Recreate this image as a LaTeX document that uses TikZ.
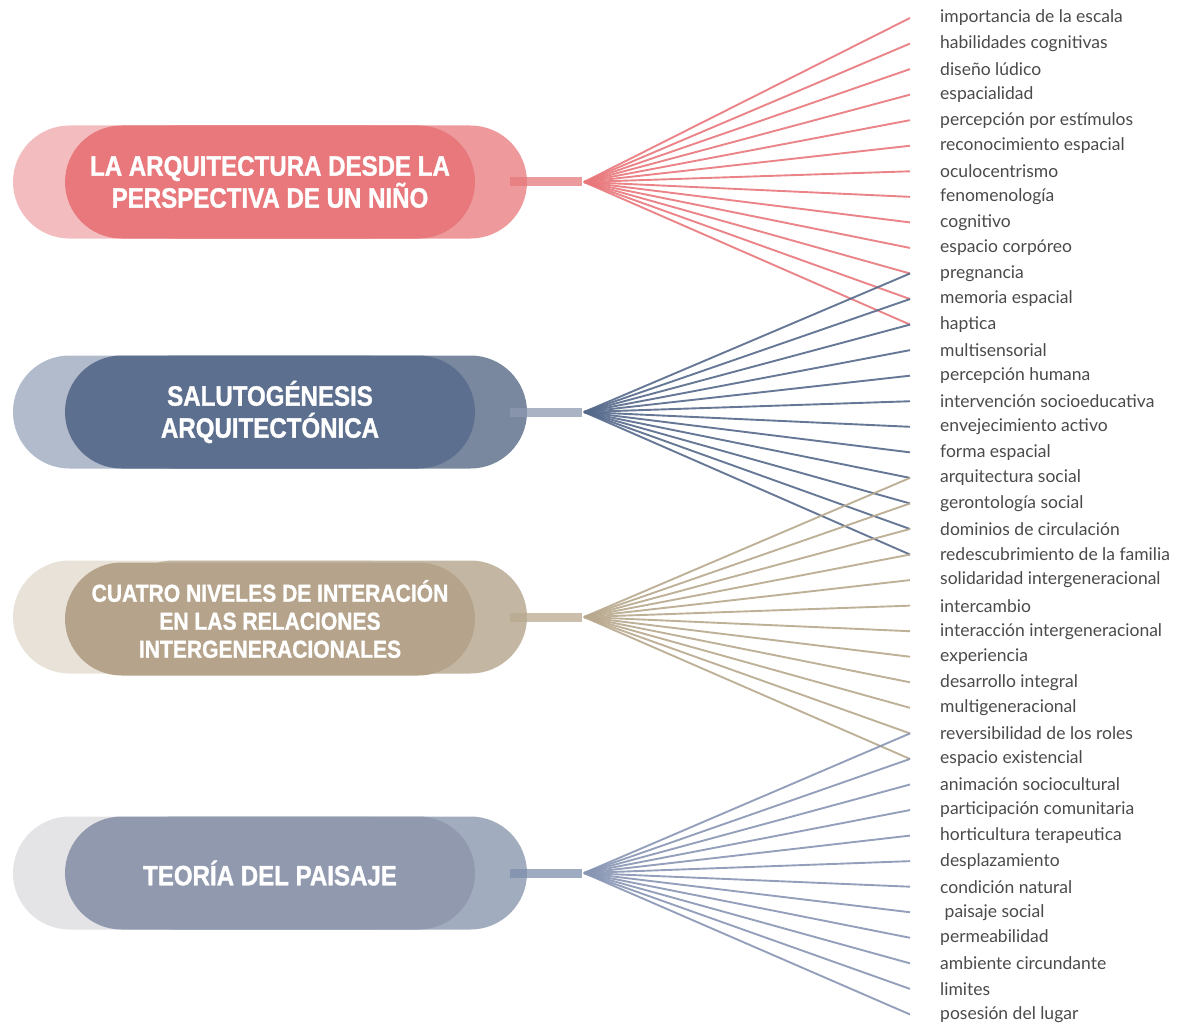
\documentclass[tikz,border=0pt]{standalone}
\usepackage{fontspec}
\setmainfont{Lato}
\newfontfamily\titlefont[FakeStretch=0.86, BoldFeatures={FakeStretch=0.86, FakeBold=1.2}]{Liberation Sans}
\definecolor{labelgray}{HTML}{4A4A4A}
\definecolor{rL}{HTML}{F3BDBF}\definecolor{rM}{HTML}{E8787B}\definecolor{rR}{HTML}{EE9A9C}\definecolor{rS}{HTML}{E6797C}\definecolor{rF}{HTML}{E8777B}
\definecolor{bL}{HTML}{B1BBCB}\definecolor{bM}{HTML}{5C6F8E}\definecolor{bR}{HTML}{7A889F}\definecolor{bS}{HTML}{8C99B0}\definecolor{bF}{HTML}{55698B}
\definecolor{tL}{HTML}{E8E2D8}\definecolor{tM}{HTML}{B5A48B}\definecolor{tR}{HTML}{C3B6A2}\definecolor{tS}{HTML}{B9A990}\definecolor{tF}{HTML}{B8A88D}
\definecolor{sL}{HTML}{E4E4E7}\definecolor{sM}{HTML}{9199AF}\definecolor{sR}{HTML}{A1ACBF}\definecolor{sS}{HTML}{7D8FAC}\definecolor{sF}{HTML}{8896B4}
\begin{document}
\begin{tikzpicture}[x=1pt,y=-1pt,
  pill/.style={rectangle, rounded corners=56.5pt, minimum width=410pt, minimum height=113pt, inner sep=0pt},
  ttl/.style={text=white, align=center, font=\titlefont\bfseries\fontsize{28}{32}\selectfont},
  ttlsmall/.style={ttl, font=\titlefont\bfseries\fontsize{24.5}{28}\selectfont},
  lbl/.style={anchor=west, inner sep=0pt, text=labelgray, font=\fontsize{17.5}{20}\selectfont},
  stubbox/.style={rectangle, minimum width=72pt, minimum height=9pt, inner sep=0pt, opacity=0.75},
  fanline/.style={line width=1.9pt, opacity=0.9}]
\useasboundingbox (0,0) rectangle (1184,1030);

% labels and line end points
\foreach \t [count=\i] in {importancia de la escala, habilidades cognitivas, diseño lúdico, espacialidad, percepción por estímulos, reconocimiento espacial, oculocentrismo, fenomenología, cognitivo, espacio corpóreo, pregnancia, memoria espacial, haptica, multisensorial, percepción humana, intervención socioeducativa, envejecimiento activo, forma espacial, arquitectura social, gerontología social, dominios de circulación, redescubrimiento de la familia, solidaridad intergeneracional, intercambio, interacción intergeneracional, experiencia, desarrollo integral, multigeneracional, reversibilidad de los roles, espacio existencial, animación sociocultural, participación comunitaria, horticultura terapeutica, desplazamiento, condición natural, \ paisaje social, permeabilidad, ambiente circundante, limites, posesión del lugar}{
  \pgfmathsetmacro{\yy}{18+(\i-1)*25.55}
  \node[lbl] (l\i) at (940,\yy) {\t};
  \coordinate (e\i) at (910,\yy);
}

% pill 1
\node[pill, fill=rL] (p1l) at (218,182) {};
\node[pill, fill=rR] (p1r) at (322,182) {};
\node[pill, fill=rM, ttl] (p1) at (270,182) {LA ARQUITECTURA DESDE LA\\PERSPECTIVA DE UN NIÑO};
\node[stubbox, fill=rS] (s1) at (546,182) {};
\coordinate (a1) at (584,182);
\foreach \i in {1,...,13} \draw[fanline, draw=rF] (a1) -- (e\i);

% pill 2
\node[pill, fill=bL] (p2l) at (218,412) {};
\node[pill, fill=bR] (p2r) at (322,412) {};
\node[pill, fill=bM, ttl] (p2) at (270,412) {SALUTOGÉNESIS\\ARQUITECTÓNICA};
\node[stubbox, fill=bS] (s2) at (546,412) {};
\coordinate (a2) at (584,412);
\foreach \i in {11,...,22} \draw[fanline, draw=bF] (a2) -- (e\i);

% pill 3
\node[pill, fill=tL] (p3l) at (218,617) {};
\node[pill, fill=tR] (p3r) at (322,617) {};
\node[pill, fill=tM, ttlsmall] (p3) at (270,619) {CUATRO NIVELES DE INTERACIÓN\\EN LAS RELACIONES\\INTERGENERACIONALES};
\node[stubbox, fill=tS] (s3) at (546,617) {};
\coordinate (a3) at (584,617);
\foreach \i in {19,...,30} \draw[fanline, draw=tF] (a3) -- (e\i);

% pill 4
\node[pill, fill=sL] (p4l) at (218,873) {};
\node[pill, fill=sR] (p4r) at (322,873) {};
\node[pill, fill=sM, ttl] (p4) at (270,873) {TEORÍA DEL PAISAJE};
\node[stubbox, fill=sS] (s4) at (546,873) {};
\coordinate (a4) at (584,873);
\foreach \i in {29,...,40} \draw[fanline, draw=sF] (a4) -- (e\i);
\end{tikzpicture}
\end{document}
